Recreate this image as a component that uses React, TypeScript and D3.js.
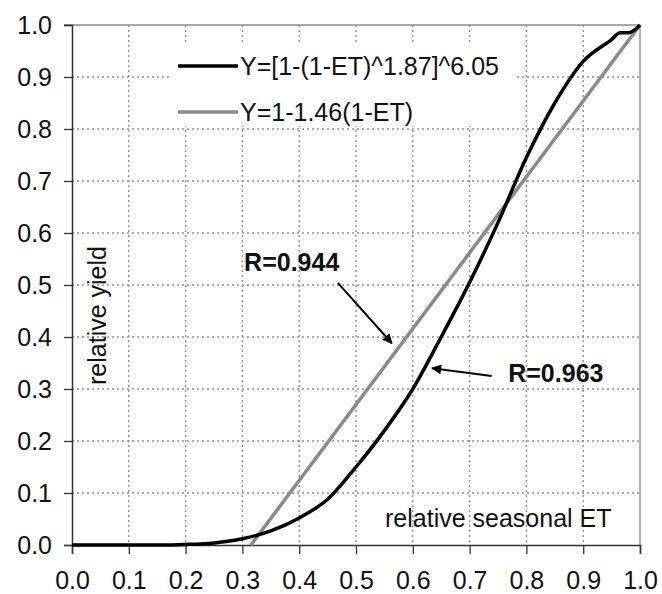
import React, { useRef, useEffect } from 'react';
import * as d3 from 'd3';

// relative seasonal ET (x) and relative yield (y)
const etPoints = [0, 0.05, 0.1, 0.15, 0.2, 0.25, 0.3, 0.35, 0.4, 0.45, 0.5, 0.55, 0.6, 0.65, 0.7, 0.75, 0.8, 0.85, 0.9, 0.95, 0.965, 0.98, 1.0];
const powerYield = [0, 0, 0, 0, 0.001, 0.004, 0.012, 0.027, 0.052, 0.088, 0.15, 0.22, 0.30, 0.40, 0.505, 0.62, 0.745, 0.85, 0.93, 0.972, 0.985, 0.985, 1.0];
const linearEt = [0.315, 1.0];
const linearYield = [0, 1.0];

const ticks = [0, 0.1, 0.2, 0.3, 0.4, 0.5, 0.6, 0.7, 0.8, 0.9, 1.0];
const legendLabels = ['Y=[1-(1-ET)^1.87]^6.05', 'Y=1-1.46(1-ET)'];
const xTitle = 'relative seasonal ET';
const yTitle = 'relative yield';

// annotations in data units: text anchor, arrow start, arrow end
const notes = [
    { label: 'R=0.944', tx: 0.303, ty: 0.527, x1: 0.468, y1: 0.504, x2: 0.563, y2: 0.388 },
    { label: 'R=0.963', tx: 0.768, ty: 0.313, x1: 0.739, y1: 0.325, x2: 0.634, y2: 0.340 },
];

const FONT = '"Liberation Sans", Arial, sans-serif';

const App = () => {
    const width = 662, height = 594;
    const svgRef = useRef<SVGSVGElement>(null);

    useEffect(() => {
        const svg = d3.select(svgRef.current);
        svg.selectAll('*').remove();

        const x = d3.scaleLinear().domain([0, 1]).range([72, 640]);
        const y = d3.scaleLinear().domain([0, 1]).range([545, 25]);

        svg.append('defs').append('marker')
            .attr('id', 'arrow')
            .attr('viewBox', '0 0 10 10')
            .attr('refX', 9).attr('refY', 5)
            .attr('markerWidth', 6).attr('markerHeight', 5)
            .attr('markerUnits', 'strokeWidth')
            .attr('orient', 'auto')
            .append('path')
            .attr('d', 'M0,0 L10,5 L0,10 z')
            .attr('fill', '#000');

        // dotted grid as one path
        const inner = ticks.slice(1, -1);
        const gridD = inner.map(t => `M${x(t)},${y(1)}V${y(0)}`).join('')
            + inner.map(t => `M${x(0)},${y(t)}H${x(1)}`).join('');
        svg.append('path')
            .attr('d', gridD)
            .attr('fill', 'none')
            .attr('stroke', '#8f8f8f')
            .attr('stroke-width', 1.4)
            .attr('stroke-dasharray', '2,3');

        // top and right frame
        svg.append('path')
            .attr('d', `M${x(0) - 8},${y(1)}H${x(1)}V${y(0)}`)
            .attr('fill', 'none')
            .attr('stroke', '#8c8c8c')
            .attr('stroke-width', 1.3);

        // axes
        const yAxis = svg.append('g')
            .attr('transform', `translate(${x(0)},0)`)
            .call(d3.axisLeft(y).tickValues(ticks).tickSize(8).tickPadding(12).tickFormat(d3.format('.1f')));
        const xAxis = svg.append('g')
            .attr('transform', `translate(0,${y(0)})`)
            .call(d3.axisBottom(x).tickValues(ticks).tickSize(9).tickPadding(12).tickFormat(d3.format('.1f')));
        [xAxis, yAxis].forEach(ax => {
            ax.select('.domain').attr('stroke', '#333').attr('stroke-width', 1.5);
            ax.selectAll('.tick line').attr('stroke', '#333').attr('stroke-width', 1.3);
            ax.selectAll('.tick text')
                .attr('fill', '#111')
                .style('font-family', FONT)
                .style('font-size', '25px');
        });
        xAxis.selectAll('.tick text').attr('dy', '0.9em');

        const line = d3.line<[number, number]>()
            .x(d => x(d[0]))
            .y(d => y(d[1]));

        svg.append('path')
            .datum(linearEt.map((e, i) => [e, linearYield[i]] as [number, number]))
            .attr('d', line)
            .attr('fill', 'none')
            .attr('stroke', '#8a8a8a')
            .attr('stroke-width', 3.5);

        svg.append('path')
            .datum(etPoints.map((e, i) => [e, powerYield[i]] as [number, number]))
            .attr('d', line.curve(d3.curveMonotoneX))
            .attr('fill', 'none')
            .attr('stroke', '#000')
            .attr('stroke-width', 3.5)
            .attr('stroke-linejoin', 'round');

        // legend on a white box
        const legend = svg.append('g');
        legend.append('rect')
            .attr('x', 170).attr('y', 44)
            .attr('width', 345).attr('height', 82)
            .attr('fill', '#fff');
        ['#000', '#8a8a8a'].forEach((c, i) => {
            const ly = 66 + i * 46;
            legend.append('line')
                .attr('x1', 178).attr('x2', 238)
                .attr('y1', ly).attr('y2', ly)
                .attr('stroke', c).attr('stroke-width', 3.5);
            legend.append('text')
                .attr('x', 240).attr('y', ly + 9)
                .style('font-family', FONT)
                .style('font-size', '25px')
                .attr('fill', '#111')
                .text(legendLabels[i]);
        });

        // annotations
        notes.forEach(n => {
            svg.append('text')
                .attr('x', x(n.tx)).attr('y', y(n.ty))
                .style('font-family', FONT)
                .style('font-size', '25px')
                .style('font-weight', 'bold')
                .attr('fill', '#111')
                .text(n.label);
            svg.append('line')
                .attr('x1', x(n.x1)).attr('y1', y(n.y1))
                .attr('x2', x(n.x2)).attr('y2', y(n.y2))
                .attr('stroke', '#000')
                .attr('stroke-width', 2)
                .attr('marker-end', 'url(#arrow)');
        });

        // titles inside the plot
        svg.append('text')
            .attr('x', 385).attr('y', 527)
            .style('font-family', FONT)
            .style('font-size', '25px')
            .attr('fill', '#111')
            .text(xTitle);
        svg.append('text')
            .attr('transform', 'translate(106,385) rotate(-90)')
            .style('font-family', FONT)
            .style('font-size', '25px')
            .attr('fill', '#111')
            .text(yTitle);
    }, []);

    return (
        <svg ref={svgRef} width={width} height={height}
            style={{ position: 'absolute', left: 0, top: 0, background: '#fff' }} />
    );
};

export default App;
